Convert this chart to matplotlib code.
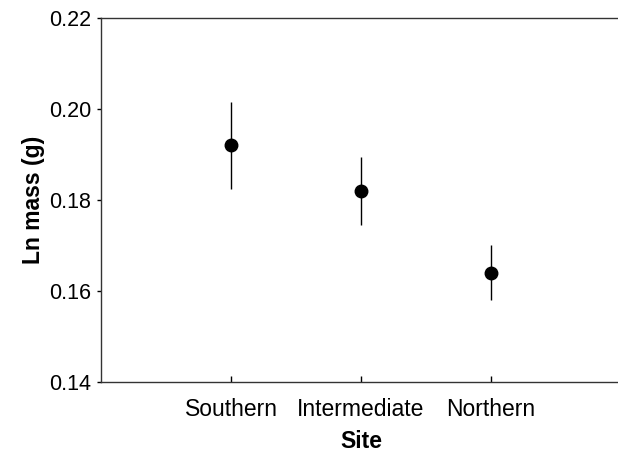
import numpy as np
import matplotlib
matplotlib.use("Agg")
import matplotlib.pyplot as plt

plt.rcParams['font.family'] = ['Liberation Sans', 'DejaVu Sans']

# data
sites = ["Southern", "Intermediate", "Northern"]
ln_mass = [0.192, 0.182, 0.164]
err = [0.0096, 0.0075, 0.006]

fig = plt.figure(figsize=(6.18, 4.55), dpi=100)
ax = fig.add_axes([101/618, 73.3/455, 520/618, 363.7/455])

x = np.arange(1, len(sites) + 1)
ax.errorbar(x, ln_mass, yerr=err, fmt='o', color='black', ms=9,
            elinewidth=1, capsize=0)

ax.set_xlim(0, 4)
ax.set_ylim(0.14, 0.22)
ax.set_yticks([0.14, 0.16, 0.18, 0.20, 0.22])
ax.set_yticklabels(["0.14", "0.16", "0.18", "0.20", "0.22"])
ax.set_xticks(x)
ax.set_xticklabels(sites)

ax.spines['right'].set_visible(False)
for s in ['left', 'top', 'bottom']:
    ax.spines[s].set_linewidth(1)
    ax.spines[s].set_color('#333333')

ax.tick_params(axis='y', direction='out', length=3, width=1, labelsize=15.5, pad=4)
ax.tick_params(axis='x', direction='in', length=4, width=1, labelsize=16.5, pad=12)

ax.set_xlabel("Site", fontsize=16.5, fontweight='bold', labelpad=6)
ax.set_ylabel("Ln mass (g)", fontsize=16.5, fontweight='bold', labelpad=3)

fig.savefig("out.png", dpi=100)
